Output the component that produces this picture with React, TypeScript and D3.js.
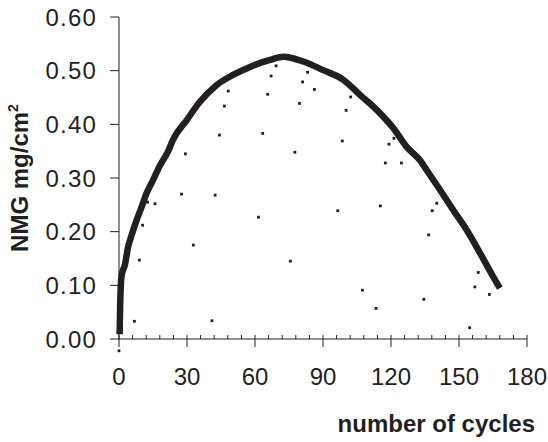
import React from "react";
import * as d3 from "d3";

// main curve (dense measurement trace)
const curveCycles = [0.3, 0.5, 0.8, 1.2, 2.6, 4, 5.6, 7.8, 10, 12.2, 15, 18, 21.6, 23.8, 29.9, 35.7, 43, 50.3, 57.8, 66.6, 72.5, 81.3, 90.1, 99, 106.3, 113.7, 121, 126.9, 132.8, 135.7, 141.6, 147.5, 153.4, 159.3, 165.1, 167.3];
const curveValues = [0.015, 0.06, 0.1, 0.12, 0.138, 0.171, 0.194, 0.222, 0.246, 0.272, 0.296, 0.323, 0.349, 0.371, 0.408, 0.442, 0.473, 0.492, 0.507, 0.52, 0.526, 0.517, 0.501, 0.483, 0.455, 0.427, 0.393, 0.358, 0.333, 0.315, 0.278, 0.24, 0.203, 0.16, 0.116, 0.1];

// stray points
const strayCycles = [0, 6.8, 9.0, 10.4, 12.6, 15.9, 27.6, 29.3, 32.8, 41, 42.4, 44.3, 46.5, 48.2, 61.5, 63.4, 65.6, 67.1, 69.3, 75.6, 77.6, 79.6, 81, 83.2, 86.2, 96.5, 98.5, 100.2, 102.2, 107.4, 113.4, 115.3, 117.5, 119.1, 121.3, 124.6, 134.5, 136.6, 138.2, 140.2, 154.7, 157, 158.5, 163.4];
const strayValues = [-0.022, 0.033, 0.147, 0.212, 0.255, 0.252, 0.27, 0.345, 0.175, 0.034, 0.268, 0.38, 0.434, 0.462, 0.227, 0.383, 0.456, 0.49, 0.509, 0.145, 0.348, 0.439, 0.479, 0.497, 0.465, 0.239, 0.369, 0.426, 0.451, 0.091, 0.057, 0.248, 0.328, 0.363, 0.374, 0.328, 0.074, 0.194, 0.239, 0.253, 0.021, 0.097, 0.124, 0.083];

const xTicks = [0, 30, 60, 90, 120, 150, 180];
const xMinorTicks = d3.range(0, 181, 6);
const yTicks = [0, 0.1, 0.2, 0.3, 0.4, 0.5, 0.6];

const ink = "#231f20";
const font = "'Liberation Sans', Arial, sans-serif";

export default function App() {
  const width = 548;
  const height = 442;
  const x = d3.scaleLinear().domain([0, 180]).range([119, 527]);
  const y = d3.scaleLinear().domain([0, 0.6]).range([339, 17]);

  const line = d3
    .line<number>()
    .x((d, i) => x(curveCycles[i]))
    .y((d) => y(d))
    .curve(d3.curveMonotoneX);

  return (
    <svg
      width={width}
      height={height}
      style={{ position: "absolute", left: 0, top: 0, background: "#fff" }}
    >
      {/* y axis */}
      <line x1={x(0)} x2={x(0)} y1={y(0.6)} y2={y(0)} stroke={ink} strokeWidth={1} />
      {yTicks.map((t) => (
        <g key={"y" + t}>
          <line x1={x(0) - 9} x2={x(0)} y1={y(t)} y2={y(t)} stroke={ink} strokeWidth={1} />
          <text
            x={97}
            y={y(t)}
            dy="0.36em"
            textAnchor="end"
            fontFamily={font}
            fontSize={24}
            letterSpacing={1.2}
            fill={ink}
          >
            {t.toFixed(2)}
          </text>
        </g>
      ))}

      {/* x axis */}
      <line x1={x(0) - 1} x2={x(180)} y1={y(0)} y2={y(0)} stroke={ink} strokeWidth={1} />
      {xMinorTicks.map((t) => (
        <line key={"m" + t} x1={x(t)} x2={x(t)} y1={y(0) - 4} y2={y(0)} stroke={ink} strokeWidth={1} />
      ))}
      {xTicks.map((t) => (
        <g key={"x" + t}>
          <line x1={x(t)} x2={x(t)} y1={y(0)} y2={y(0) + 8} stroke={ink} strokeWidth={1} />
          <text
            x={x(t)}
            y={385}
            textAnchor="middle"
            fontFamily={font}
            fontSize={24}
            fill={ink}
          >
            {t}
          </text>
        </g>
      ))}

      {/* curve */}
      <path
        d={line(curveValues) || ""}
        fill="none"
        stroke={ink}
        strokeWidth={6.5}
        strokeLinejoin="round"
        strokeLinecap="square"
      />

      {/* stray points */}
      {strayValues.map((v, i) => (
        <rect
          key={"s" + i}
          x={x(strayCycles[i]) - 1.4}
          y={y(v) - 1.4}
          width={2.8}
          height={2.8}
          fill={ink}
        />
      ))}

      {/* titles */}
      <text
        transform={`translate(28,178) rotate(-90)`}
        textAnchor="middle"
        fontFamily={font}
        fontSize={24}
        fontWeight="bold"
        fill={ink}
      >
        NMG mg/cm
        <tspan fontSize={14} dy="-0.75em">2</tspan>
      </text>
      <text
        x={535}
        y={432}
        textAnchor="end"
        fontFamily={font}
        fontSize={24}
        fontWeight="bold"
        fill={ink}
      >
        number of cycles
      </text>
    </svg>
  );
}
